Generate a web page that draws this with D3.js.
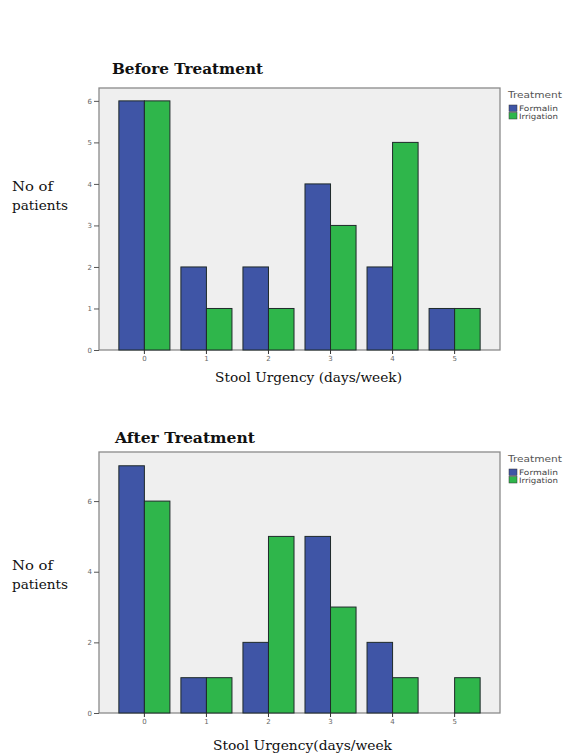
<!DOCTYPE html>
<html>
<head>
<meta charset="utf-8">
<script src="https://cdn.jsdelivr.net/npm/d3@7"></script>
<style>
  html, body { margin: 0; padding: 0; background: #ffffff; }
  svg { display: block; }
</style>
</head>
<body>
<svg id="chart" width="563" height="756"></svg>
<script>
// Stool urgency (days/week) by treatment group
const categories = ["0", "1", "2", "3", "4", "5"];
const seriesNames = ["Formalin", "Irrigation"];
const beforeFormalin = [6, 2, 2, 4, 2, 1];
const beforeIrrigation = [6, 1, 1, 3, 5, 1];
const afterFormalin = [7, 1, 2, 5, 2, 0];
const afterIrrigation = [6, 1, 5, 3, 1, 1];
const beforeTicks = [0, 1, 2, 3, 4, 5, 6];
const afterTicks = [0, 2, 4, 6];

const colors = { Formalin: "#3f55a6", Irrigation: "#2fb64b" };
const serif = "'DejaVu Serif', 'Liberation Serif', serif";
const sans = "'DejaVu Sans', Arial, sans-serif";
const svg = d3.select("#chart");

function fitText(sel, width) {
  return sel.attr("textLength", width).attr("lengthAdjust", "spacingAndGlyphs");
}

function panel(opts) {
  const { top, bottom, left, right, yMax, ticks, formalin, irrigation,
          title, titleX, titleY, titleW, xLabel, xLabelX, xLabelY, xLabelW, yLabelY } = opts;

  const g = svg.append("g");

  const x = d3.scaleBand().domain(categories).range([left, right])
    .paddingInner(0.177).paddingOuter(0.32);
  const xs = d3.scaleBand().domain(seriesNames).range([0, x.bandwidth()]);
  const y = d3.scaleLinear().domain([0, yMax]).range([bottom, top]);

  // plot background
  g.append("rect")
    .attr("x", left).attr("y", top)
    .attr("width", right - left).attr("height", bottom - top)
    .attr("fill", "#efefef").attr("stroke", "#8a8a8a").attr("stroke-width", 1.3);

  const rows = categories.map((c, i) => ({
    cat: c,
    vals: [{ s: "Formalin", v: formalin[i] }, { s: "Irrigation", v: irrigation[i] }]
  }));

  g.selectAll("g.cat").data(rows).join("g")
    .attr("transform", d => `translate(${x(d.cat)},0)`)
    .selectAll("rect").data(d => d.vals.filter(e => e.v > 0)).join("rect")
    .attr("x", d => xs(d.s))
    .attr("y", d => y(d.v))
    .attr("width", xs.bandwidth())
    .attr("height", d => y(0) - y(d.v))
    .attr("fill", d => colors[d.s])
    .attr("stroke", "#1f2a2a").attr("stroke-width", 1);

  // y axis
  const ya = g.append("g").attr("transform", `translate(${left},0)`)
    .call(d3.axisLeft(y).tickValues(ticks).tickSize(5).tickPadding(2).tickFormat(d3.format("d")));
  ya.select(".domain").remove();
  ya.selectAll("line").attr("stroke", "#555");
  ya.selectAll("text").attr("fill", "#666").style("font-family", sans).style("font-size", "7px");

  // x axis
  const xa = g.append("g").attr("transform", `translate(0,${bottom})`)
    .call(d3.axisBottom(x).tickSize(4).tickPadding(2));
  xa.select(".domain").remove();
  xa.selectAll("line").attr("stroke", "#333");
  xa.selectAll("text").attr("fill", "#666").style("font-family", sans).style("font-size", "7px");

  // title
  fitText(g.append("text").attr("x", titleX).attr("y", titleY)
    .style("font-family", serif)
    .style("font-weight", "bold").style("font-size", "15.5px").attr("fill", "#111")
    .text(title), titleW);

  // axis titles
  fitText(g.append("text").attr("x", xLabelX).attr("y", xLabelY)
    .style("font-family", serif)
    .style("font-size", "12.5px").attr("fill", "#111")
    .text(xLabel), xLabelW);

  const yl = g.append("text")
    .style("font-family", serif)
    .style("font-size", "13px").attr("fill", "#111");
  fitText(yl.append("tspan").attr("x", 12).attr("y", yLabelY).text("No of"), 41);
  fitText(yl.append("tspan").attr("x", 12).attr("y", yLabelY + 19).text("patients"), 56);

  // legend
  const lg = g.append("g").attr("transform", `translate(508,${top})`);
  fitText(lg.append("text").attr("x", 0).attr("y", 10)
    .style("font-family", sans)
    .style("font-size", "8px").attr("fill", "#555").text("Treatment"), 54);
  seriesNames.forEach((s, i) => {
    lg.append("rect").attr("x", 1).attr("y", 17 + i * 7.5)
      .attr("width", 8).attr("height", 6.5)
      .attr("fill", colors[s]).attr("stroke", "#333").attr("stroke-width", 0.5);
    fitText(lg.append("text").attr("x", 11).attr("y", 23 + i * 7.5)
      .style("font-family", sans)
      .style("font-size", "7.5px").attr("fill", "#444").text(s), 39);
  });
}

panel({
  top: 88, bottom: 350, left: 99, right: 500, yMax: 6.31, ticks: beforeTicks,
  formalin: beforeFormalin, irrigation: beforeIrrigation,
  title: "Before Treatment", titleX: 112, titleY: 74, titleW: 151,
  xLabel: "Stool Urgency (days/week)", xLabelX: 215, xLabelY: 382, xLabelW: 187, yLabelY: 191
});

panel({
  top: 452, bottom: 713, left: 99, right: 500, yMax: 7.39, ticks: afterTicks,
  formalin: afterFormalin, irrigation: afterIrrigation,
  title: "After Treatment", titleX: 115, titleY: 443, titleW: 140,
  xLabel: "Stool Urgency(days/week", xLabelX: 213, xLabelY: 750, xLabelW: 179, yLabelY: 570
});
</script>
</body>
</html>
